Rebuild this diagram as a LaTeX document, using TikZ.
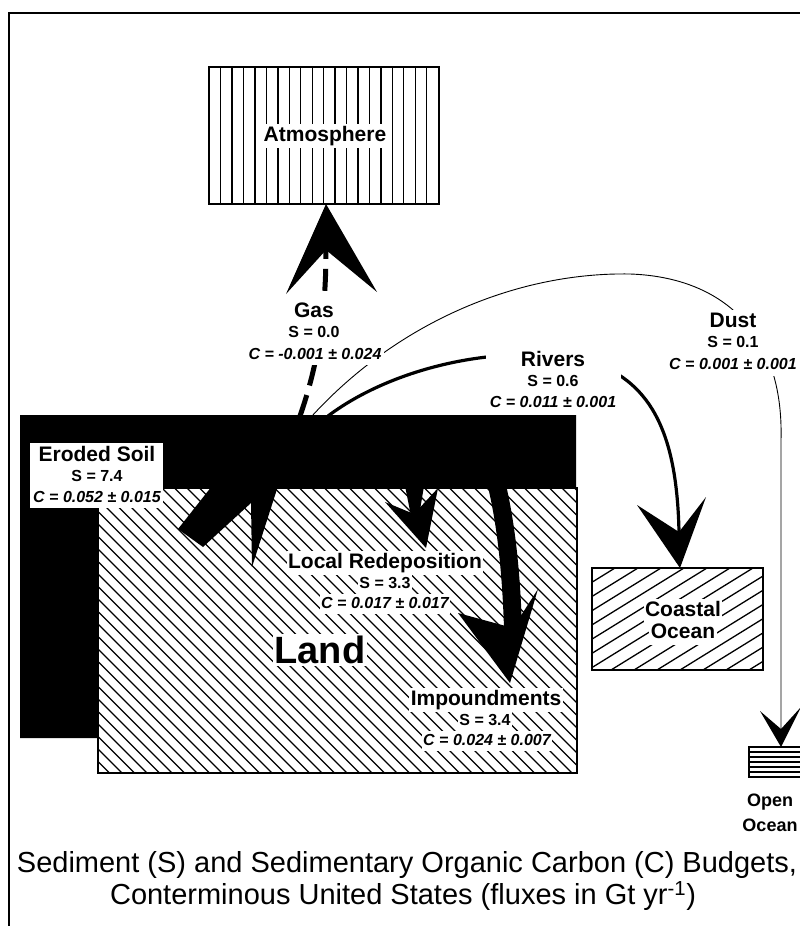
\documentclass[tikz,border=0pt]{standalone}
\usepackage{fontspec}
\setmainfont{Liberation Sans}
\begin{document}
\begin{tikzpicture}[x=1pt,y=-1pt,
  frame/.style={line width=1.4pt},
  boxline/.style={line width=1.2pt},
  hatch/.style={line width=1.3pt},
  head/.style={fill=black},
  labelbg/.style={fill=white},
  thinflow/.style={line width=0.9pt},
  riverflow/.style={line width=3.2pt},
  gasflow/.style={line width=5pt, dash pattern=on 22pt off 10pt},
  nm/.style={font=\fontsize{21}{24}\selectfont\bfseries, fill=white, inner xsep=1.5pt, inner ysep=2pt, text height=15.5pt, text depth=4.5pt},
  sv/.style={font=\fontsize{16}{19}\selectfont\bfseries, fill=white, inner xsep=1.5pt, inner ysep=2pt, text height=12pt, text depth=4pt},
  cv/.style={sv, font=\fontsize{16}{19}\selectfont\bfseries\itshape},
  bignm/.style={font=\fontsize{38}{42}\selectfont\bfseries, fill=white, inner sep=2pt},
  plain/.style={font=\fontsize{18}{21}\selectfont\bfseries, inner sep=1pt},
  caption/.style={font=\fontsize{29}{33}\selectfont, inner sep=0pt}]
\useasboundingbox (0,0) rectangle (800,926);
\fill[white] (0,0) rectangle (800,926);

% frame
\draw[frame] (800,13) -- (9,13) -- (9,926);

% ---------- Atmosphere ----------
\begin{scope}
  \clip (209,67) rectangle (439,204);
  \foreach \i in {0,...,18} \draw[hatch] ({220.7+11.44*\i},67) -- ({220.7+11.44*\i},204);
\end{scope}
\draw[boxline] (209,67) rectangle (439,204);

% ---------- Land ----------
\begin{scope}
  \clip (98,488) rectangle (577,773);
  \foreach \hh in {-676,-663.5,...,92} \draw[hatch] ({\hh+488},488) -- ({\hh+773},773);
\end{scope}
\draw[boxline] (98,488) rectangle (577,773);

% eroded soil (black)
\fill (20,415) -- (576,415) -- (576,488) -- (98,488) -- (98,738) -- (20,738) -- cycle;

% ---------- Coastal Ocean ----------
\begin{scope}
  \clip (592,568) rectangle (763,670);
  \foreach \hh in {427,450,...,770} \draw[hatch] (\hh,670) -- ({\hh+165},568);
\end{scope}
\draw[boxline] (592,568) rectangle (763,670);

% ---------- Open Ocean ----------
\begin{scope}
  \clip (749,747) rectangle (800,777);
  \foreach \yy in {752,757,762,767,772} \draw[hatch] (749,\yy) -- (800,\yy);
\end{scope}
\draw[boxline] (802,747) -- (749,747) -- (749,777) -- (802,777);

% ---------- coordinates ----------
\coordinate (gasStart) at (300,416);
\coordinate (gasNotch) at (326,250);
\coordinate (gasTip) at (326,204);
\coordinate (gasL) at (286,294);
\coordinate (gasR) at (377,292);

\coordinate (dustStart) at (312,416);
\coordinate (dustTop) at (630,274);
\coordinate (dustDown) at (781,440);
\coordinate (openNotch) at (781,729);
\coordinate (openTip) at (781,747);
\coordinate (openL) at (760,711);
\coordinate (openR) at (801,707);

\coordinate (rivStart) at (328,416);
\coordinate (rivMid) at (600,365);
\coordinate (rivNotch) at (679,532);
\coordinate (rivTip) at (680,568);
\coordinate (rivL) at (637,505);
\coordinate (rivR) at (706,497);

\coordinate (impStart) at (497,486);
\coordinate (impNotch) at (513,628);
\coordinate (impTip) at (510,683);
\coordinate (impL) at (458,613);
\coordinate (impR) at (538,589);

\coordinate (locTip) at (426,548);
\coordinate (locL) at (385,502);
\coordinate (locNotch) at (414,514);
\coordinate (locR) at (438,488);

% ---------- flows ----------
% gas
\draw[gasflow] (gasStart) .. controls (316,370) and (326,320) .. (gasNotch);
\fill[head] (gasTip) -- (gasL) -- (gasNotch) -- (gasR) -- cycle;

% dust
\draw[thinflow] (dustStart) .. controls (400,320) and (520,272) .. (dustTop)
   .. controls (720,277) and (784,330) .. (dustDown) -- (openNotch);
\fill[head] (openTip) -- (openL) -- (openNotch) -- (openR) -- cycle;

% rivers
\draw[riverflow] (rivStart) .. controls (400,362) and (520,340) .. (rivMid)
   .. controls (655,388) and (677,440) .. (rivNotch);
\fill[head] (rivTip) -- (rivL) -- (rivNotch) -- (rivR) -- cycle;

% impoundments
\draw[line width=18pt] (impStart) .. controls (505,520) and (511,565) .. (impNotch);
\fill[head] (impTip) -- (impL) -- (impNotch) -- (impR) -- cycle;

% local redeposition
\fill[head] (405,486) -- (424,486) -- (419,516) -- (411,516) -- cycle;
\fill[head] (locTip) -- (locL) -- (locNotch) -- (locR) -- cycle;

% eroded soil arrowhead
\fill[head] (212,486) -- (178,529) -- (203,547) -- (251,503) -- (252,567) -- (278,486) -- cycle;

% ---------- labels ----------
\node[nm] (atmT) at (325,136) {Atmosphere};

\fill[labelbg] (247,301) rectangle (384,363);
\node[nm] (gasN) at (314,312) {Gas};
\node[sv] (gasS) at (314,333) {S = 0.0};
\node[cv] (gasC) at (315,355) {C = -0.001 ± 0.024};

\fill[labelbg] (486,349) rectangle (621,413);
\node[nm] (rivN) at (553,361) {Rivers};
\node[sv] (rivS) at (553,382) {S = 0.6};
\node[cv] (rivC) at (553,403) {C = 0.011 ± 0.001};

\fill[labelbg] (665,310) rectangle (800,376);
\node[nm] (dustN) at (733,322) {Dust};
\node[sv] (dustS) at (733,343) {S = 0.1};
\node[cv] (dustC) at (733,365) {C = 0.001 ± 0.001};

\fill[labelbg] (30,443) rectangle (163,508);
\node[nm] (eroN) at (97,456) {Eroded Soil};
\node[sv] (eroS) at (97,477) {S = 7.4};
\node[cv] (eroC) at (97,498) {C = 0.052 ± 0.015};

\node[nm] (locN) at (385,563) {Local Redeposition};
\node[sv] (locS) at (385,584) {S = 3.3};
\node[cv] (locC) at (385,604) {C = 0.017 ± 0.017};

\node[bignm] (landT) at (320,650) {Land};

\node[nm] (impN) at (486,700) {Impoundments};
\node[sv] (impS) at (485,721) {S = 3.4};
\node[cv] (impC) at (487,741) {C = 0.024 ± 0.007};

\node[nm] (coastA) at (683,611) {Coastal};
\node[nm] (coastB) at (683,633) {Ocean};

\node[plain] (openA) at (770,802) {Open};
\node[plain] (openB) at (770,825) {Ocean};

\node[caption] (cap1) at (407,865) {Sediment (S) and Sedimentary Organic Carbon (C) Budgets,};
\node[caption] (cap2) at (403,896) {Conterminous United States (fluxes in Gt yr\textsuperscript{-1})};
\end{tikzpicture}
\end{document}
